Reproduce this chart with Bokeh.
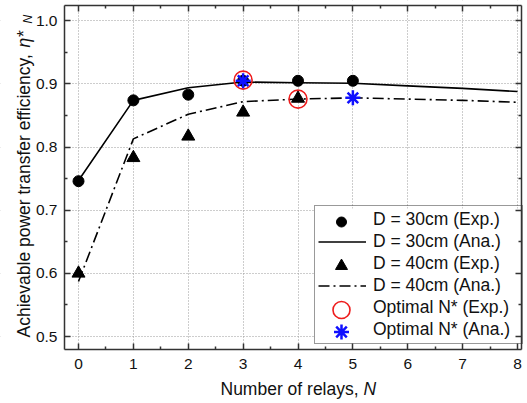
import math
from bokeh.plotting import figure
from bokeh.models import (LinearAxis, FixedTicker, Legend, LegendItem, Label, Range1d, Grid,
                          NumeralTickFormatter)
from bokeh.embed import file_html
from bokeh.resources import INLINE

# ---- data ----
x_ticks = [0, 1, 2, 3, 4, 5, 6, 7, 8]
y_ticks = [0.5, 0.6, 0.7, 0.8, 0.9, 1.0]

exp30_x = [0, 1, 2, 3, 4, 5]
exp30_y = [0.746, 0.874, 0.883, 0.905, 0.905, 0.905]

ana30_x = [0, 1, 2, 3, 4, 5, 6, 7, 8]
ana30_y = [0.747, 0.874, 0.894, 0.903, 0.902, 0.901, 0.897, 0.893, 0.888]

exp40_x = [0, 1, 2, 3, 4]
exp40_y = [0.600, 0.783, 0.817, 0.855, 0.877]

ana40_x = [0, 1, 2, 3, 4, 5, 6, 7, 8]
ana40_y = [0.587, 0.813, 0.852, 0.872, 0.876, 0.878, 0.876, 0.874, 0.871]

opt_exp_x = [3, 4]
opt_exp_y = [0.906, 0.876]

opt_ana_x = [3, 5]
opt_ana_y = [0.905, 0.878]

legend_labels = ["D = 30cm (Exp.)", "D = 30cm (Ana.)", "D = 40cm (Exp.)",
                 "D = 40cm (Ana.)", "Optimal N* (Exp.)", "Optimal N* (Ana.)"]

FONT = "Liberation Sans"
AX = "#333333"
TXT = "#111111"

# ---- layout (pixels on the canvas, origin top-left) ----
W, H = 527, 403
PL, PR, PT, PB = 64, 521, 5, 349          # plotting-area box
X_PX0, X_PX8 = 78.0, 517.0               # pixel of x=0 and x=8
Y_PX10, Y_PX05 = 20.3, 336.0             # pixel of y=1.0 and y=0.5
SX = (X_PX8 - X_PX0) / 8.0
SY = (Y_PX05 - Y_PX10) / 0.5
XS = 0 - X_PX0 / SX
XE = XS + W / SX
YE = 1.0 + Y_PX10 / SY
YS = YE - H / SY


def cx(px):
    return XS + px / SX


def cy(py):  # py measured from the top of the canvas
    return YE - py / SY


XL, XR, YB, YT = cx(PL), cx(PR), cy(PB), cy(PT)

p = figure(width=W, height=H, x_range=Range1d(XS, XE), y_range=Range1d(YS, YE),
           output_backend="svg", toolbar_location=None, title=None,
           min_border=0, min_border_left=0, min_border_right=0, min_border_top=0,
           min_border_bottom=0, x_axis_type=None, y_axis_type=None)
p.outline_line_color = None
p.background_fill_color = "white"
p.border_fill_color = "white"

xt = FixedTicker(ticks=x_ticks, minor_ticks=[t + 0.5 for t in x_ticks[:-1]])
yt = FixedTicker(ticks=y_ticks, minor_ticks=[round(t + 0.05, 2) for t in y_ticks[:-1]])

# grid (masked outside the plotting area further below)
for dim, tk in ((0, xt), (1, yt)):
    p.add_layout(Grid(dimension=dim, ticker=tk, grid_line_color="#9a9a9a",
                      grid_line_dash="1 2", grid_line_width=1))

# white masks outside the plotting box
p.quad(left=[XS, XR, XL, XL], right=[XL, XE, XR, XR],
       bottom=[YS, YS, YT, YS], top=[YE, YE, YE, YB],
       fill_color="white", line_color=None)


def make_axis(side, loc, ticker, bounds, labels, standoff=7, fmt=None):
    kw = dict(ticker=ticker, fixed_location=loc, bounds=bounds)
    if fmt is not None:
        kw["formatter"] = fmt
    ax = LinearAxis(**kw)
    ax.axis_line_color = AX
    ax.axis_line_width = 1.5
    ax.major_tick_line_color = AX
    ax.major_tick_line_width = 1.5
    ax.minor_tick_line_color = AX
    ax.minor_tick_line_width = 1.5
    ax.major_tick_in = 6
    ax.major_tick_out = 0
    ax.minor_tick_in = 3
    ax.minor_tick_out = 0
    if labels:
        ax.major_label_text_font = FONT
        ax.major_label_text_font_size = "15.5px"
        ax.major_label_text_color = TXT
        ax.major_label_standoff = standoff
    else:
        ax.major_label_text_font_size = "0px"
        ax.major_label_text_color = None
        ax.major_label_text_alpha = 0
        ax.major_label_standoff = 0
    p.add_layout(ax, side)
    return ax


make_axis("below", YB, xt, (XL, XR), True, standoff=9)
make_axis("above", YT, xt, (XL, XR), False)
make_axis("left", XL, yt, (YB, YT), True, standoff=7, fmt=NumeralTickFormatter(format="0.0"))
make_axis("right", XR, yt, (YB, YT), False)

# ---- legend geometry (canvas pixels) ----
LG_L, LG_R, LG_T, LG_B = 314, PR, 208, 344
LG_PAD, ROW_H, ROW_SP = 3, 21, 1
GLYPH_W, STANDOFF = 48, 7
LG_W = LG_R - LG_L

# white legend background
p.quad(left=[cx(LG_L)], right=[cx(LG_R)], bottom=[cy(LG_B)], top=[cy(LG_T)],
       fill_color="white", line_color=None)

# ---- data glyphs ----
r_ana30 = p.line(ana30_x, ana30_y, line_color="black", line_width=1.6)
r_ana40 = p.line(ana40_x, ana40_y, line_color="black", line_width=1.6, line_dash="11 4 2 4")
p.scatter(exp30_x, exp30_y, marker="circle", size=11, fill_color="black", line_color="black")
p.scatter(exp40_x, exp40_y, marker="triangle", size=13, fill_color="black", line_color="black")
p.scatter(opt_exp_x, opt_exp_y, marker="circle", size=18, fill_color=None,
          line_color="#ee1c1c", line_width=1.6)
p.scatter(opt_ana_x, opt_ana_y, marker="asterisk", size=15, line_color="#1010ff", line_width=2.5)

# legend marker samples at full size
row_cy = [LG_T + LG_PAD + ROW_H / 2 + i * (ROW_H + ROW_SP) for i in range(6)]
lx = cx(LG_L + LG_PAD + GLYPH_W / 2)
p.scatter([lx], [cy(row_cy[0])], marker="circle", size=10, fill_color="black", line_color="black")
p.scatter([lx], [cy(row_cy[2])], marker="triangle", size=12, fill_color="black", line_color="black")
p.scatter([lx], [cy(row_cy[4])], marker="circle", size=17, fill_color=None,
          line_color="#ee1c1c", line_width=1.6)
p.scatter([lx], [cy(row_cy[5])], marker="asterisk", size=15, line_color="#1010ff", line_width=2.5)

blank = p.line([], [], line_alpha=0)

legend = Legend(items=[
    LegendItem(label=legend_labels[0], renderers=[blank]),
    LegendItem(label=legend_labels[1], renderers=[r_ana30]),
    LegendItem(label=legend_labels[2], renderers=[blank]),
    LegendItem(label=legend_labels[3], renderers=[r_ana40]),
    LegendItem(label=legend_labels[4], renderers=[blank]),
    LegendItem(label=legend_labels[5], renderers=[blank]),
])
legend.label_text_font = FONT
legend.label_text_font_size = "17.5px"
legend.label_text_color = TXT
legend.glyph_width = GLYPH_W
legend.glyph_height = ROW_H
legend.label_height = ROW_H
legend.label_width = LG_W - 2 * LG_PAD - GLYPH_W - STANDOFF
legend.spacing = ROW_SP
legend.padding = LG_PAD
legend.margin = 0
legend.label_standoff = STANDOFF
legend.border_line_color = AX
legend.border_line_width = 1.5
legend.background_fill_alpha = 0
legend.location = (LG_L, H - LG_B)
p.add_layout(legend, "center")

# ---- axis titles (mixed styles); screen px from the canvas bottom-left ----
fs = "17.5px"
p.add_layout(Label(x=220, y=H - 388, x_units="screen", y_units="screen", text="Number of relays, ",
                   text_font=FONT, text_font_size=fs, text_baseline="alphabetic", text_align="left",
                   text_color=TXT))
p.add_layout(Label(x=363, y=H - 388, x_units="screen", y_units="screen", text="N",
                   text_font=FONT, text_font_style="italic", text_font_size=fs,
                   text_baseline="alphabetic", text_align="left", text_color=TXT))

p.add_layout(Label(x=23, y=H - 337, x_units="screen", y_units="screen",
                   text="Achievable power transfer efficiency, ", angle=math.pi / 2,
                   text_font=FONT, text_font_size=fs, text_baseline="alphabetic", text_align="left",
                   text_color=TXT))
p.add_layout(Label(x=23, y=H - 47, x_units="screen", y_units="screen",
                   text="\u03b7*", angle=math.pi / 2,
                   text_font=FONT, text_font_style="italic", text_font_size=fs,
                   text_baseline="alphabetic", text_align="left", text_color=TXT))
p.add_layout(Label(x=27, y=H - 23, x_units="screen", y_units="screen",
                   text="N", angle=math.pi / 2,
                   text_font=FONT, text_font_style="italic", text_font_size="12px",
                   text_baseline="alphabetic", text_align="left", text_color=TXT))

open("out.html", "w").write(file_html(p, INLINE))
